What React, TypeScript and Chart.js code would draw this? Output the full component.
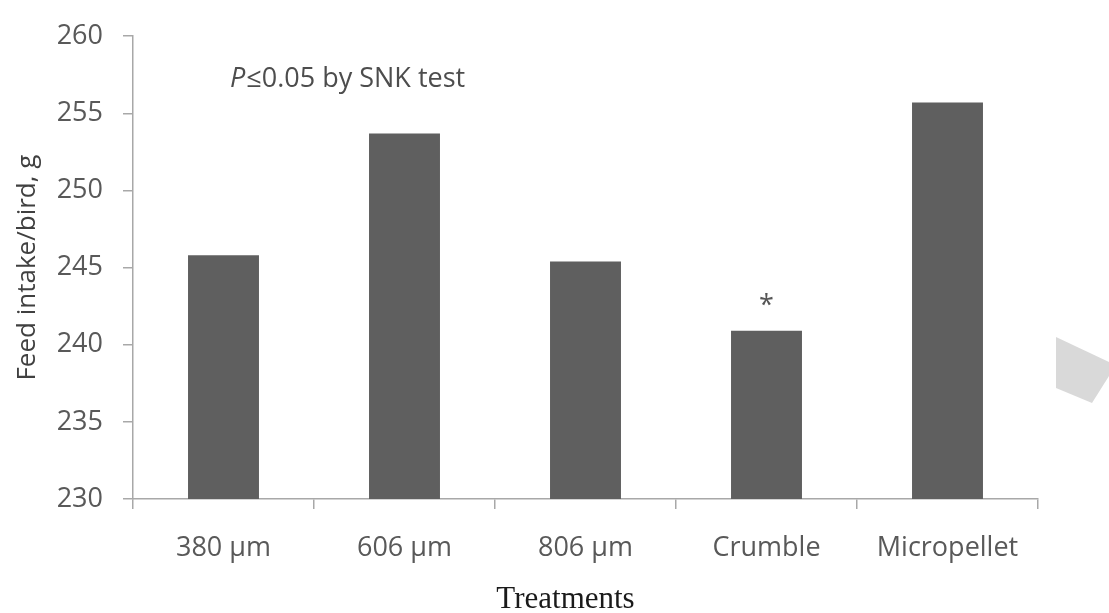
import React, { useEffect, useRef } from 'react';
import { Chart, registerables } from 'chart.js';

Chart.register(...registerables);

const categories = ['380 µm', '606 µm', '806 µm', 'Crumble', 'Micropellet'];
const feedIntake = [245.8, 253.7, 245.4, 240.9, 255.7];
const significance = ['', '', '', '*', ''];
const yMin = 230;
const yMax = 260;
const yStep = 5;
const yTitle = 'Feed intake/bird, g';
const xTitle = 'Treatments';
const noteItalic = 'P';
const noteRest = '≤0.05 by SNK test';

const SANS = '"Open Sans", sans-serif';

const decorations = {
  id: 'decorations',
  afterDraw(chart: any) {
    const { ctx, chartArea } = chart;
    ctx.save();
    // note
    ctx.fillStyle = '#4d4d4d';
    ctx.textBaseline = 'middle';
    ctx.textAlign = 'left';
    let x = chartArea.left + 97;
    const y = chartArea.top + 43;
    ctx.font = `italic 27px ${SANS}`;
    ctx.fillText(noteItalic, x, y);
    x += ctx.measureText(noteItalic).width + 1;
    ctx.font = `27px ${SANS}`;
    ctx.fillText(noteRest, x, y);
    // significance marks
    const meta = chart.getDatasetMeta(0);
    ctx.textAlign = 'center';
    ctx.textBaseline = 'alphabetic';
    ctx.fillStyle = '#555555';
    meta.data.forEach((bar: any, i: number) => {
      if (significance[i]) ctx.fillText(significance[i], bar.x, bar.y - 17);
    });
    // x title
    ctx.font = '31px "Liberation Serif", serif';
    ctx.fillStyle = '#1a1a1a';
    ctx.fillText(xTitle, (chartArea.left + chartArea.right) / 2 - 20, 608);
    // page decoration
    ctx.fillStyle = '#d9d9d9';
    ctx.beginPath();
    ctx.moveTo(1056, 337);
    ctx.lineTo(1109, 362);
    ctx.lineTo(1109, 376);
    ctx.lineTo(1092, 403);
    ctx.lineTo(1056, 388);
    ctx.closePath();
    ctx.fill();
    ctx.restore();
  },
};

export default function App() {
  const ref = useRef<HTMLCanvasElement | null>(null);
  useEffect(() => {
    if (!ref.current) return;
    const chart = new Chart(ref.current, {
      type: 'bar',
      data: {
        labels: categories,
        datasets: [
          {
            data: feedIntake,
            backgroundColor: '#5f5f5f',
            borderWidth: 0,
            barPercentage: 0.392,
            categoryPercentage: 1,
          },
        ],
      },
      options: {
        animation: false,
        responsive: false,
        devicePixelRatio: 1,
        layout: { padding: { top: 29, right: 71, bottom: 0, left: 0 } },
        plugins: { legend: { display: false }, tooltip: { enabled: false } },
        scales: {
          x: {
            offset: true,
            grid: {
              offset: true,
              drawOnChartArea: false,
              drawTicks: true,
              tickLength: 10,
              color: '#a8a8a8',
              lineWidth: 1.5,
            },
            border: { display: true, color: '#a8a8a8', width: 1.5 },
            ticks: {
              font: { family: SANS, size: 27 },
              color: '#595959',
              padding: 23,
              maxRotation: 0,
            },
            afterFit: (scale: any) => {
              scale.height = 114;
            },
          },
          y: {
            min: yMin,
            max: yMax,
            ticks: {
              stepSize: yStep,
              font: { family: SANS, size: 27 },
              color: '#595959',
              padding: 20,
            },
            grid: {
              drawOnChartArea: false,
              drawTicks: true,
              tickLength: 10,
              color: '#a8a8a8',
              lineWidth: 1.5,
            },
            border: { display: true, color: '#a8a8a8', width: 1.5 },
            title: {
              display: true,
              text: yTitle,
              font: { family: SANS, size: 26 },
              color: '#404040',
              padding: { top: 12, bottom: 0 },
            },
            afterFit: (scale: any) => {
              scale.width = 133;
            },
          },
        },
      },
      plugins: [decorations],
    });
    return () => chart.destroy();
  }, []);
  return (
    <div style={{ position: 'absolute', left: 0, top: 0, width: 1109, height: 613, background: '#fff' }}>
      <canvas ref={ref} width={1109} height={613} />
    </div>
  );
}
